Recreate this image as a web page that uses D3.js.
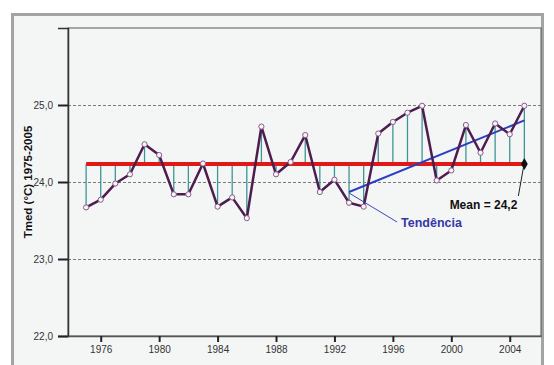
<!DOCTYPE html>
<html>
<head>
<meta charset="utf-8">
<script src="https://cdn.jsdelivr.net/npm/d3@7"></script>
<style>
  html, body { margin: 0; padding: 0; background: #ffffff; }
  svg { display: block; }
  text { font-family: "Liberation Sans", Arial, sans-serif; }
</style>
</head>
<body>
<svg id="chart" width="554" height="365"></svg>
<script>
// ---- data ----
const years = [1975,1976,1977,1978,1979,1980,1981,1982,1983,1984,1985,1986,1987,1988,1989,1990,
               1991,1992,1993,1994,1995,1996,1997,1998,1999,2000,2001,2002,2003,2004,2005];
const tmed  = [23.67,23.77,23.98,24.10,24.49,24.35,23.84,23.84,24.24,23.68,23.80,23.53,24.72,24.10,24.26,24.61,
               23.87,24.03,23.73,23.68,24.63,24.78,24.90,24.99,24.02,24.15,24.74,24.38,24.76,24.62,24.99];
const trendYears  = [1993, 2005];
const trendValues = [23.87, 24.80];
const yTicks = [22, 23, 24, 25];
const xTicks = [1976, 1980, 1984, 1988, 1992, 1996, 2000, 2004];
const yTitle = "Tmed (°C) 1975-2005";
const trendLabel = "Tendência";
const meanPrefix = "Mean = ";

// ---- layout ----
const svg = d3.select("#chart");
const plot = { left: 68, right: 541, top: 28, bottom: 336 };

const x = d3.scaleLinear().domain([1973.76, 2006.14]).range([plot.left, plot.right]);
const y = d3.scaleLinear().domain([22, 26]).range([plot.bottom, plot.top]);

const locale = d3.formatLocale({ decimal: ",", thousands: ".", grouping: [3], currency: ["", ""] });
const f1 = locale.format(".1f");

const meanVal = d3.mean(tmed);

// outer panel
svg.append("rect").attr("x", 12.5).attr("y", 14.5).attr("width", 530).attr("height", 360)
  .attr("fill", "#f4f6f6").attr("stroke", "#a3a3a3").attr("stroke-width", 3);

// plot area
svg.append("rect").attr("x", plot.left).attr("y", plot.top)
  .attr("width", plot.right - plot.left).attr("height", plot.bottom - plot.top)
  .attr("fill", "#f4f6f6").attr("stroke", "#555").attr("stroke-width", 1);

// gridlines
svg.append("g").selectAll("line").data(yTicks.filter(d => d > 22)).join("line")
  .attr("x1", plot.left).attr("x2", plot.right)
  .attr("y1", d => Math.round(y(d)) + 0.5).attr("y2", d => Math.round(y(d)) + 0.5)
  .attr("stroke", "#7a7a7a").attr("stroke-width", 1).attr("stroke-dasharray", "3,2");

// axes
const yAxis = d3.axisLeft(y).tickValues(yTicks).tickFormat(f1).tickSize(10).tickPadding(5);
const gy = svg.append("g").attr("transform", `translate(${plot.left},0)`).call(yAxis);
gy.select(".domain").attr("stroke", "#333").attr("stroke-width", 1.5);
gy.selectAll(".tick line").attr("stroke", "#222").attr("stroke-width", 2);
gy.selectAll(".tick text").attr("font-size", 10).attr("fill", "#333")
  .attr("font-family", "Liberation Sans, Arial, sans-serif");

const xAxis = d3.axisBottom(x).tickValues(xTicks).tickFormat(d3.format("d")).tickSize(6).tickPadding(4).tickSizeOuter(0);
const gx = svg.append("g").attr("transform", `translate(0,${plot.bottom})`).call(xAxis);
gx.select(".domain").attr("stroke", "#555").attr("stroke-width", 1.5);
gx.selectAll(".tick line").attr("stroke", "#222").attr("stroke-width", 2);
gx.selectAll(".tick text").attr("font-size", 10).attr("fill", "#333")
  .attr("font-family", "Liberation Sans, Arial, sans-serif");

// y title
svg.append("text")
  .attr("transform", `translate(32,${(plot.top + plot.bottom) / 2}) rotate(-90)`)
  .attr("text-anchor", "middle")
  .attr("font-size", 11.5).attr("font-weight", "bold").attr("fill", "#111")
  .text(yTitle);

const pts = years.map((yr, i) => ({ yr, v: tmed[i] }));

// drop lines to the mean
svg.append("g").selectAll("line").data(pts).join("line")
  .attr("x1", d => x(d.yr)).attr("x2", d => x(d.yr))
  .attr("y1", d => y(d.v)).attr("y2", y(meanVal))
  .attr("stroke", "#3f9595").attr("stroke-width", 1.3);

// mean line
svg.append("line")
  .attr("x1", x(years[0])).attr("x2", x(years[years.length - 1]))
  .attr("y1", y(meanVal)).attr("y2", y(meanVal))
  .attr("stroke", "#e01818").attr("stroke-width", 4);

// trend line
svg.append("line")
  .attr("x1", x(trendYears[0])).attr("y1", y(trendValues[0]))
  .attr("x2", x(trendYears[1])).attr("y2", y(trendValues[1]))
  .attr("stroke", "#2b3fc0").attr("stroke-width", 2);

// main series line
svg.append("path").datum(pts)
  .attr("d", d3.line().x(d => x(d.yr)).y(d => y(d.v)))
  .attr("fill", "none").attr("stroke", "#4e1c4e").attr("stroke-width", 2.5)
  .attr("stroke-linejoin", "round");

// markers
svg.append("g").selectAll("circle").data(pts).join("circle")
  .attr("cx", d => x(d.yr)).attr("cy", d => y(d.v)).attr("r", 2.6)
  .attr("fill", "#f6f2f6").attr("stroke", "#8a5a8a").attr("stroke-width", 1);

// trend annotation
const tx0 = x(trendYears[0]), ty0 = y(trendValues[0]);
svg.append("line")
  .attr("x1", tx0).attr("y1", ty0 + 1)
  .attr("x2", tx0 + 48).attr("y2", ty0 + 30)
  .attr("stroke", "#3a4ab8").attr("stroke-width", 1);
svg.append("text")
  .attr("x", tx0 + 52).attr("y", ty0 + 35)
  .attr("font-size", 12.5).attr("font-weight", "bold").attr("fill", "#3438a8")
  .text(trendLabel);

// mean annotation
const mx = x(years[years.length - 1]), my = y(meanVal);
svg.append("line")
  .attr("x1", mx - 1).attr("y1", my + 4)
  .attr("x2", mx - 6).attr("y2", my + 32)
  .attr("stroke", "#222").attr("stroke-width", 1);
svg.append("path")
  .attr("d", d3.symbol().type(d3.symbolDiamond).size(40)())
  .attr("transform", `translate(${mx},${my})`)
  .attr("fill", "#111");
svg.append("text")
  .attr("x", mx - 7).attr("y", my + 45.5)
  .attr("text-anchor", "end")
  .attr("font-size", 12).attr("font-weight", "bold").attr("fill", "#111")
  .text(meanPrefix + f1(meanVal));
</script>
</body>
</html>
